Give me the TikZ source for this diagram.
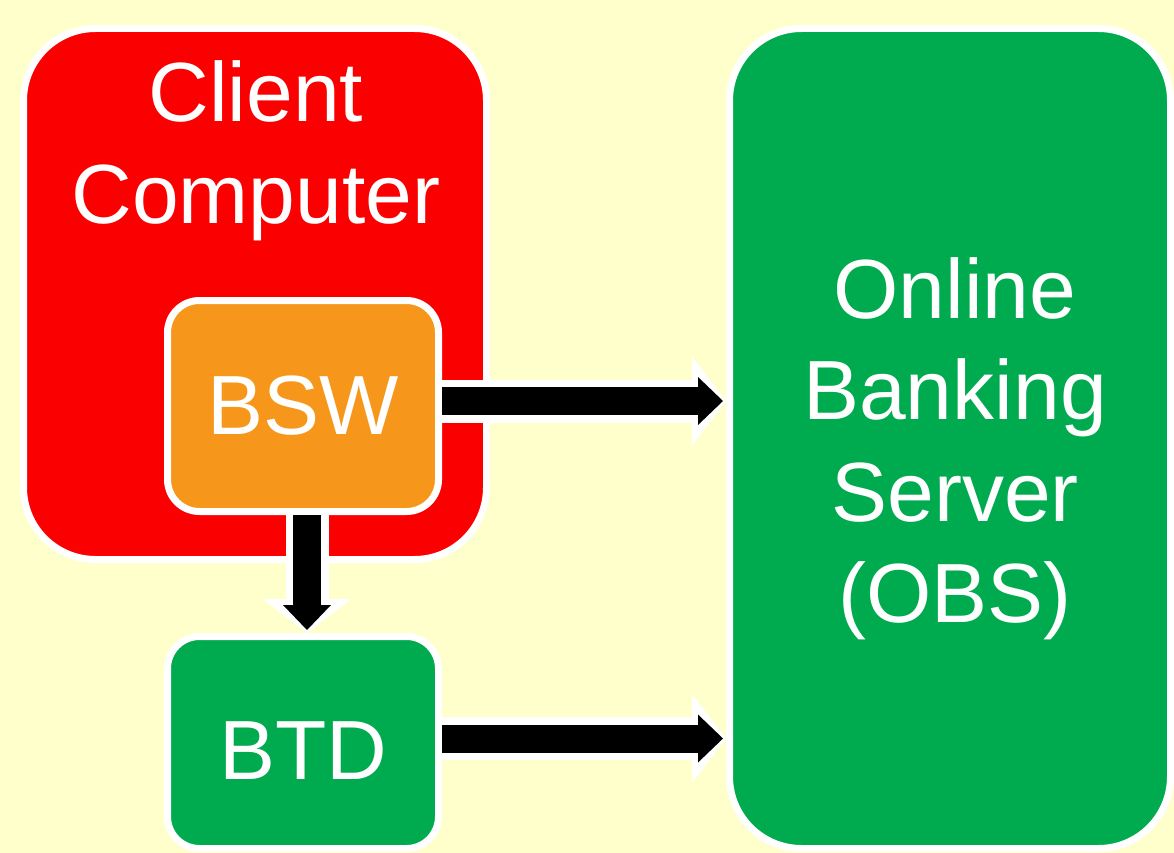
\documentclass[tikz,border=0pt]{standalone}
\usepackage{fontspec}
\setmainfont{Liberation Sans}
\usetikzlibrary{arrows.meta, shadows}

\begin{document}
\begin{tikzpicture}[x=1pt, y=-1pt]
    % Colours
    \definecolor{bgyellow}{RGB}{255, 255, 204}
    \definecolor{boxred}{RGB}{250, 0, 0}
    \definecolor{boxorange}{RGB}{246, 150, 26}
    \definecolor{boxgreen}{RGB}{0, 170, 79}

    \tikzset{
        roundbox/.style={draw=white, line width=7pt, rounded corners=#1, inner sep=0pt,
            drop shadow={shadow xshift=2pt, shadow yshift=-2pt, opacity=0.15}},
        boxtext/.style={text=white, font=\fontsize{84}{101.5}\selectfont, align=center, inner sep=0pt},
        arrowback/.style={draw=white, line width=43pt,
            -{Triangle[length=34pt, width=89pt, line width=0pt]}},
        arrowfront/.style={draw=black, line width=28pt,
            -{Triangle[length=25pt, width=48pt, line width=0pt]}, shorten >=3pt}
    }

    % Background
    \useasboundingbox (0,0) rectangle (1174,853);
    \fill[bgyellow] (0,0) rectangle (1174,853);

    % 1. Boxes
    \node[roundbox=72pt, fill=boxred, minimum width=463pt, minimum height=531pt] (client) at (255, 294) {};
    \node[roundbox=32pt, fill=boxorange, minimum width=271pt, minimum height=211pt, boxtext] (bsw) at (303, 406) {BSW};
    \node[roundbox=32pt, fill=boxgreen, minimum width=271pt, minimum height=212pt] (btd) at (303, 742.5) {};
    \node[roundbox=72pt, fill=boxgreen, minimum width=441pt, minimum height=820pt] (obs) at (950, 438.5) {};

    % 2. Labels
    \node[boxtext] (clienttext) at (256, 151) {Client\\Computer};
    \node[boxtext] (btdtext) at (303, 751) {BTD};
    \node[boxtext] (obstext) at (955, 449) {Online\\Banking\\Server\\(OBS)};

    % 3. Block arrows (white outline first, black on top)
    \draw[arrowback] ([yshift=5pt]bsw.east) -- ([yshift=5pt]bsw.east -| obs.west);
    \draw[arrowfront] ([yshift=5pt]bsw.east) -- ([yshift=5pt]bsw.east -| obs.west);

    \draw[arrowback] ([xshift=4pt]bsw.south) -- ([xshift=4pt]btd.north);
    \draw[arrowfront] ([xshift=4pt]bsw.south) -- ([xshift=4pt]btd.north);

    \draw[arrowback] ([yshift=4pt]btd.east) -- ([yshift=4pt]btd.east -| obs.west);
    \draw[arrowfront] ([yshift=4pt]btd.east) -- ([yshift=4pt]btd.east -| obs.west);

\end{tikzpicture}
\end{document}
